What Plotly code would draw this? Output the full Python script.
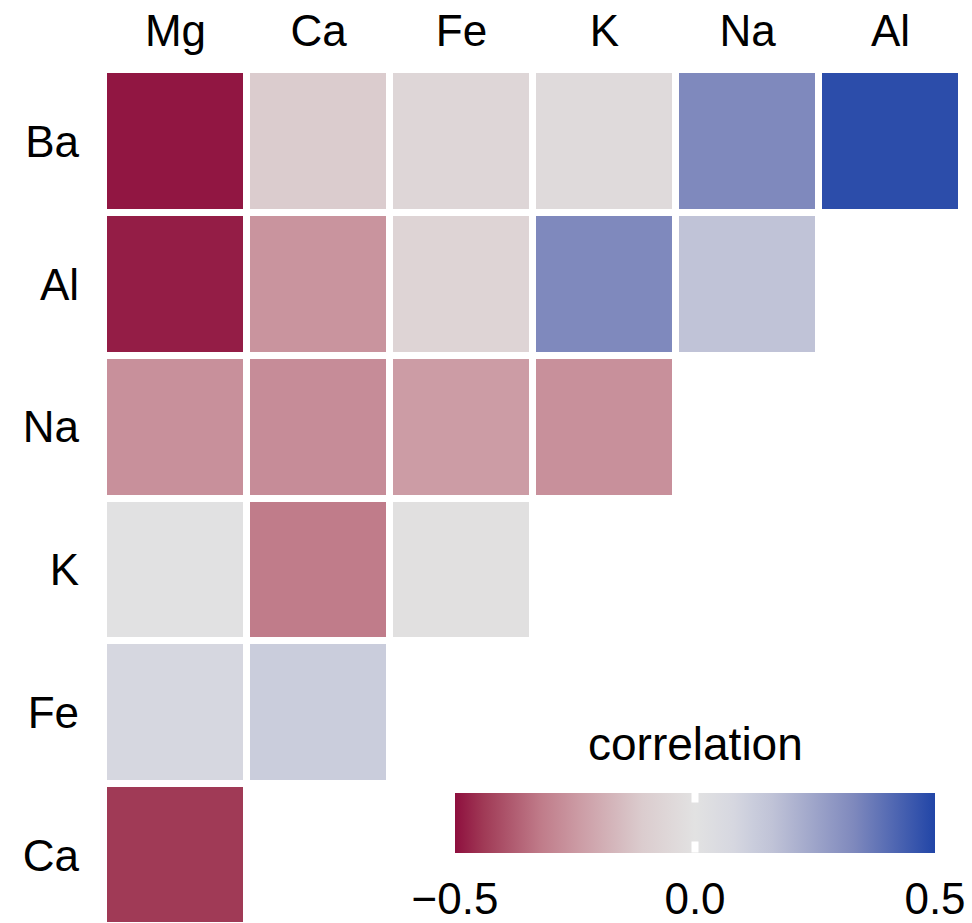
import plotly.graph_objects as go

cols = ["Mg", "Ca", "Fe", "K", "Na", "Al"]
rows = ["Ba", "Al", "Na", "K", "Fe", "Ca"]

ba = [-0.49, -0.11, -0.06, -0.04, 0.33, 0.48]
al = [-0.48, -0.26, -0.07, 0.33, 0.16, None]
na = [-0.27, -0.28, -0.24, -0.27, None, None]
k_ = [0.01, -0.32, -0.01, None, None, None]
fe = [0.08, 0.12, None, None, None, None]
ca = [-0.44, None, None, None, None, None]

z = [ba, al, na, k_, fe, ca]

cbar_ticks = [-0.5, 0.0, 0.5]

colorscale = [
    [0.0, "#8E0F3E"],
    [0.06, "#A03A56"],
    [0.18, "#C07C8A"],
    [0.26, "#CC9CA5"],
    [0.39, "#DBCCCE"],
    [0.5, "#E2E2E2"],
    [0.58, "#D6D7E0"],
    [0.62, "#CACDDC"],
    [0.66, "#C0C3D7"],
    [0.83, "#7F89BD"],
    [1.0, "#2145A7"],
]

FONT = "Liberation Sans, Arial, Helvetica, sans-serif"

# plot area geometry (pixels)
L, R, T, B, W, H = 104, 10, 70, 0, 972, 923
PW, PH = W - L - R, H - T - B


def px_x(p):
    return (p - L) / PW


def px_y(p):
    return (H - B - p) / PH


bar_left, bar_right, bar_top, bar_bot = 455, 935, 793, 853

fig = go.Figure(
    go.Heatmap(
        z=z, x=cols, y=rows,
        zmin=-0.5, zmax=0.5,
        colorscale=colorscale,
        xgap=7, ygap=7,
        hoverongaps=False,
        colorbar=dict(
            orientation="h",
            lenmode="pixels", len=bar_right - bar_left,
            thickness=bar_bot - bar_top,
            xpad=0, ypad=0,
            x=px_x((bar_left + bar_right) / 2), xanchor="center",
            y=px_y(bar_top), yanchor="top",
            outlinewidth=0,
            tickvals=cbar_ticks,
            tickformat=".1f",
            ticks="outside", ticklen=9, tickwidth=1, tickcolor="white",
            tickfont=dict(family=FONT, size=44, color="black"),
        ),
    )
)

# white guide tick marks inside the bar at 0 (drawn as small white boxes)
cx = (bar_left + bar_right) / 2
for yy in [bar_top + 5, bar_bot - 5]:
    fig.add_annotation(text=" ", xref="paper", yref="paper",
                       x=px_x(cx), y=px_y(yy), xanchor="center", yanchor="middle",
                       showarrow=False, width=6, height=10, borderpad=0,
                       bgcolor="white", font=dict(size=2))

fig.add_annotation(text="correlation", xref="paper", yref="paper",
                   x=px_x(695), y=px_y(745), xanchor="center", yanchor="middle",
                   showarrow=False,
                   font=dict(family=FONT, size=46, color="black"))

fig.update_layout(
    width=W, height=H,
    margin=dict(l=L, r=R, t=T, b=B),
    paper_bgcolor="white", plot_bgcolor="white",
    font=dict(family=FONT, color="black"),
    xaxis=dict(side="top", showgrid=False, zeroline=False, showline=False,
               ticks="", tickfont=dict(size=44), range=[-0.5, 5.5],
               ticklabelstandoff=14),
    yaxis=dict(showgrid=False, zeroline=False, showline=False, ticks="",
               tickfont=dict(size=44), range=[5.465, -0.5],
               ticklabelstandoff=24,
               categoryorder="array", categoryarray=rows),
)

fig.write_html("out.html")
